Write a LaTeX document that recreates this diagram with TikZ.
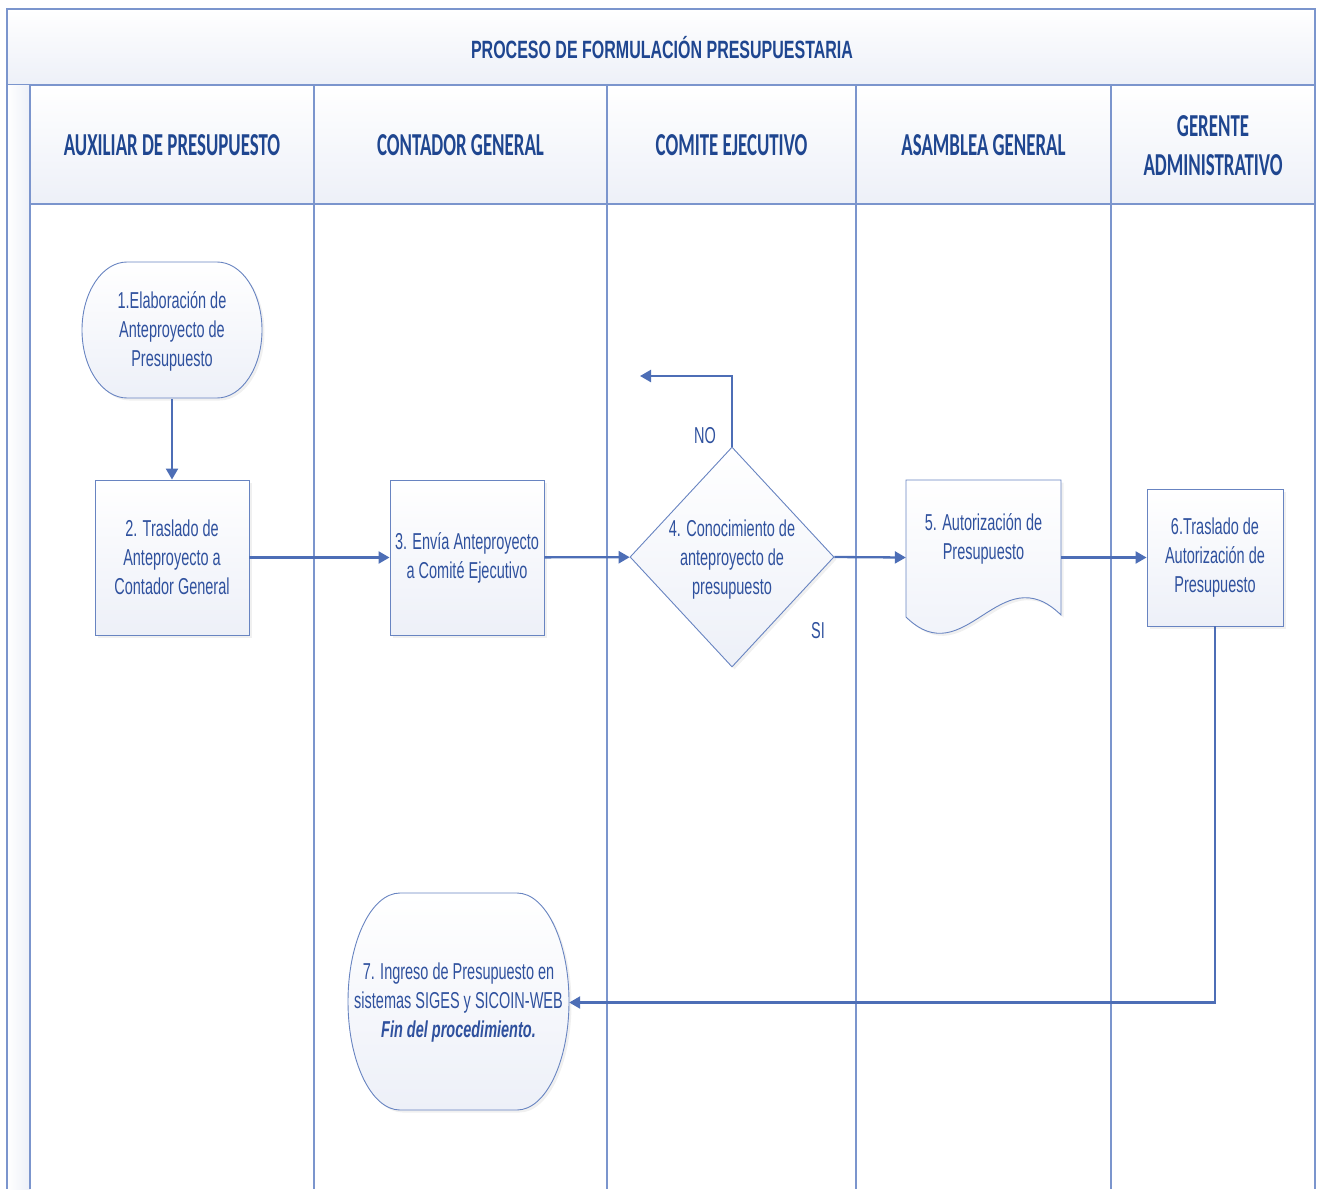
\documentclass[tikz,border=0pt]{standalone}
\usepackage{fontspec}
\usepackage{tikz}
\usetikzlibrary{shapes.geometric,arrows.meta,shadows}
\setmainfont{Liberation Sans}
\newfontfamily\bodyfont[FakeStretch=0.63]{Liberation Sans}
\newfontfamily\headfont[FakeStretch=0.59]{Carlito}
\newfontfamily\titlefont[FakeStretch=0.64]{Liberation Sans}
\definecolor{laneblue}{HTML}{7B95CD}
\definecolor{flowblue}{HTML}{4D6EB6}
\definecolor{inkblue}{HTML}{2F519E}
\definecolor{headblue}{HTML}{1F4690}
\definecolor{paleblue}{HTML}{EDF0F8}

\begin{document}
\begin{tikzpicture}[x=1pt,y=1pt]
            \tikzstyle{every node}=[font=\bodyfont\fontsize{23}{29}\selectfont, text=inkblue, align=center]
            \tikzstyle{lane}=[draw=laneblue, line width=1.8pt]
            \tikzstyle{band}=[top color=white, bottom color=paleblue, draw=laneblue, line width=1.8pt]
            \tikzstyle{symbol}=[draw=flowblue!85, line width=0.9pt, top color=white, bottom color=paleblue, drop shadow={opacity=0.12, shadow xshift=2.5pt, shadow yshift=-2.5pt}]
            \tikzstyle{proc}=[symbol, rectangle, minimum width=154, minimum height=155, inner sep=0]
            \tikzstyle{head}=[font=\headfont\bfseries\fontsize{32}{39}\selectfont, text=headblue]
            \tikzstyle{flow}=[draw=flowblue, line width=2.3pt, -{Triangle[length=11pt,width=12pt]}]
            \useasboundingbox (0,0) rectangle (1317,-1189);
            % pool and lanes
            \filldraw [band] (7,-9) rectangle (1315,-85);
            \node [font=\titlefont\bfseries\fontsize{25}{30}\selectfont, text=headblue] (title) at (662,-48) {PROCESO DE FORMULACIÓN PRESUPUESTARIA};
            \shade [left color=white, right color=paleblue] (7,-85) rectangle (30,-1189);
            \filldraw [band] (30,-85) rectangle (1315,-204);
            \draw [lane] (7,-85) -- (7,-1189);
            \draw [lane] (30,-85) -- (30,-1189);
            \draw [lane] (314,-85) -- (314,-1189);
            \draw [lane] (607,-85) -- (607,-1189);
            \draw [lane] (856,-85) -- (856,-1189);
            \draw [lane] (1111,-85) -- (1111,-1189);
            \draw [lane] (1315,-85) -- (1315,-1189);
            \node [head] (auxiliar) at (172,-145) {AUXILIAR DE PRESUPUESTO};
            \node [head] (contador) at (460.5,-145) {CONTADOR GENERAL};
            \node [head] (comite) at (731.5,-145) {COMITE EJECUTIVO};
            \node [head] (asamblea) at (983.5,-145) {ASAMBLEA GENERAL};
            \node [head] (gerente) at (1213,-145.5) {GERENTE\\ADMINISTRATIVO};
            % steps
            \path [symbol] (127,-262) -- (217,-262) arc[start angle=90, end angle=-90, x radius=45, y radius=68] -- (127,-398) arc[start angle=270, end angle=90, x radius=45, y radius=68] -- cycle;
            \node [minimum width=180, minimum height=136, inner sep=0] (n1) at (172,-331) {1.Elaboración de\\Anteproyecto de\\Presupuesto};
            \node [proc] (n2) at (172,-557.5) {2. Traslado de\\Anteproyecto a\\Contador General};
            \node [proc] (n3) at (467,-557.5) {3. Envía Anteproyecto\\a Comité Ejecutivo};
            \node [symbol, diamond, minimum width=204, minimum height=220, inner sep=0] (n4) at (732,-557) {};
            \node (n4text) at (732,-560) {4. Conocimiento de\\anteproyecto de\\presupuesto};
            \path [symbol] (906,-480) -- (1061,-480) -- (1061,-615) .. controls (1000,-555) and (965,-675) .. (906,-617) -- cycle;
            \node [minimum width=155, minimum height=155, inner sep=0] (n5) at (983.5,-557.5) {};
            \node (n5text) at (983.5,-539) {5. Autorización de\\Presupuesto};
            \node [proc, minimum width=136, minimum height=137] (n6) at (1215,-557.5) {6.Traslado de\\Autorización de\\Presupuesto};
            \path [symbol] (400,-893) -- (517,-893) arc[start angle=90, end angle=-90, x radius=52, y radius=108.5] -- (400,-1110) arc[start angle=270, end angle=90, x radius=52, y radius=108.5] -- cycle;
            \node [minimum width=221, minimum height=217, inner sep=0] (n7) at (458.5,-1002.5) {7. Ingreso de Presupuesto en\\sistemas SIGES y SICOIN-WEB\\{\bfseries\itshape Fin del procedimiento.}};
            % connectors
            \coordinate (noend) at (640,-376);
            \draw [flow] (n1) -- (n2);
            \draw [flow] (n2) -- (n3);
            \draw [flow] (n3) -- (n4);
            \draw [flow] (n4.east) -- (n5.west);
            \draw [flow] (n5.east) -- (n6.west);
            \draw [flow] (n4.north) |- (noend);
            \draw [flow] (n6.south) |- (n7.east);
            \node (no) at (705,-436) {NO};
            \node (si) at (818,-631) {SI};
        \end{tikzpicture}
\end{document}
